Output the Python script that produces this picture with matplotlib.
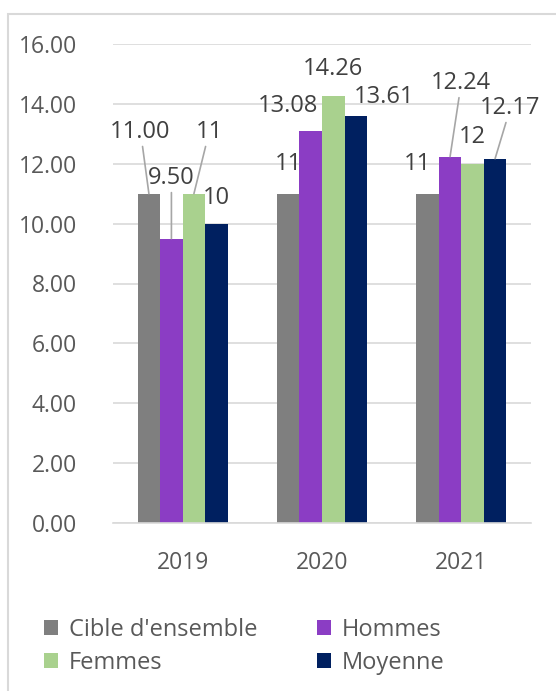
import matplotlib.pyplot as plt
import numpy as np

years = ["2019", "2020", "2021"]
series = ["Cible d'ensemble", "Hommes", "Femmes", "Moyenne"]
cible = [11.00, 11, 11]
hommes = [9.50, 13.08, 12.24]
femmes = [11, 14.26, 12]
moyenne = [10, 13.61, 12.17]
labels = [["11.00", "11", "11"],
          ["9.50", "13.08", "12.24"],
          ["11", "14.26", "12"],
          ["10", "13.61", "12.17"]]

colors = ["#7F7F7F", "#8B3DC4", "#A9D18E", "#002060"]
# label offsets (dx in category units, dy in value units) and leader flags
dxs = [[-0.06, 0.0, -0.07], [0.0, -0.165, 0.08], [0.11, 0.0, 0.0], [0.0, 0.2, 0.11]]
dys = [[2.07, 1.0, 1.0], [2.03, 0.85, 2.46], [2.07, 0.91, 0.9], [0.87, 0.62, 1.7]]
leader = [[True, False, False], [True, False, True], [True, False, False], [False, False, True]]

plt.rcParams['font.family'] = ['Open Sans', 'DejaVu Sans']

fig = plt.figure(figsize=(5.56, 6.91), dpi=100)
ax = fig.add_axes([113 / 556, 1 - 523 / 691, (531 - 113) / 556, (523 - 44) / 691])

x = np.arange(len(years))
w = 0.1615
data = [cible, hommes, femmes, moyenne]
bars = []
for i, vals in enumerate(data):
    pos = x + (i - 1.5) * w
    bars.append(ax.bar(pos, vals, w, color=colors[i], label=series[i], zorder=2))
    for j in range(len(years)):
        tx = pos[j] + dxs[i][j]
        ty = vals[j] + dys[i][j]
        if leader[i][j]:
            ax.annotate(labels[i][j], xy=(pos[j], vals[j]), xytext=(tx, ty),
                        ha="center", va="center", fontsize=17, color="#404040",
                        arrowprops=dict(arrowstyle="-", color="#A6A6A6", lw=1.2,
                                        shrinkA=0, shrinkB=0), zorder=3)
        else:
            ax.text(tx, ty, labels[i][j], ha="center", va="center",
                    fontsize=17, color="#404040", zorder=3)

ax.set_xlim(-0.5, 2.5)
ax.set_ylim(0, 16)
ax.set_yticks(np.arange(0, 17, 2))
ax.set_yticklabels(["%.2f" % v for v in np.arange(0, 17, 2)])
ax.set_xticks(x)
ax.set_xticklabels(years)
ax.tick_params(axis="both", length=0, labelsize=16.5, colors="#595959")
ax.tick_params(axis="y", pad=26)
ax.tick_params(axis="x", pad=20)
ax.grid(axis="y", color="#D9D9D9", lw=1.2, zorder=0)
for s in ["top", "right", "left"]:
    ax.spines[s].set_visible(False)
ax.spines["bottom"].set_color("#D9D9D9")
ax.spines["bottom"].set_linewidth(1.2)

order = [0, 2, 1, 3]
fig.legend([bars[k] for k in order], [series[k] for k in order],
           loc="upper left", bbox_to_anchor=(23 / 556, 1 - 597 / 691), ncol=2,
           frameon=False, fontsize=17, handlelength=0.6, handleheight=0.6,
           handletextpad=0.45, columnspacing=2.5, labelspacing=0.35,
           labelcolor="#595959")

fig.add_artist(plt.Rectangle((8 / 556, -0.1), 1.2, 1 - 14 / 691 + 0.1, fill=False,
                             ec="#D9D9D9", lw=1.5, transform=fig.transFigure))

fig.savefig("out.png", dpi=100)
